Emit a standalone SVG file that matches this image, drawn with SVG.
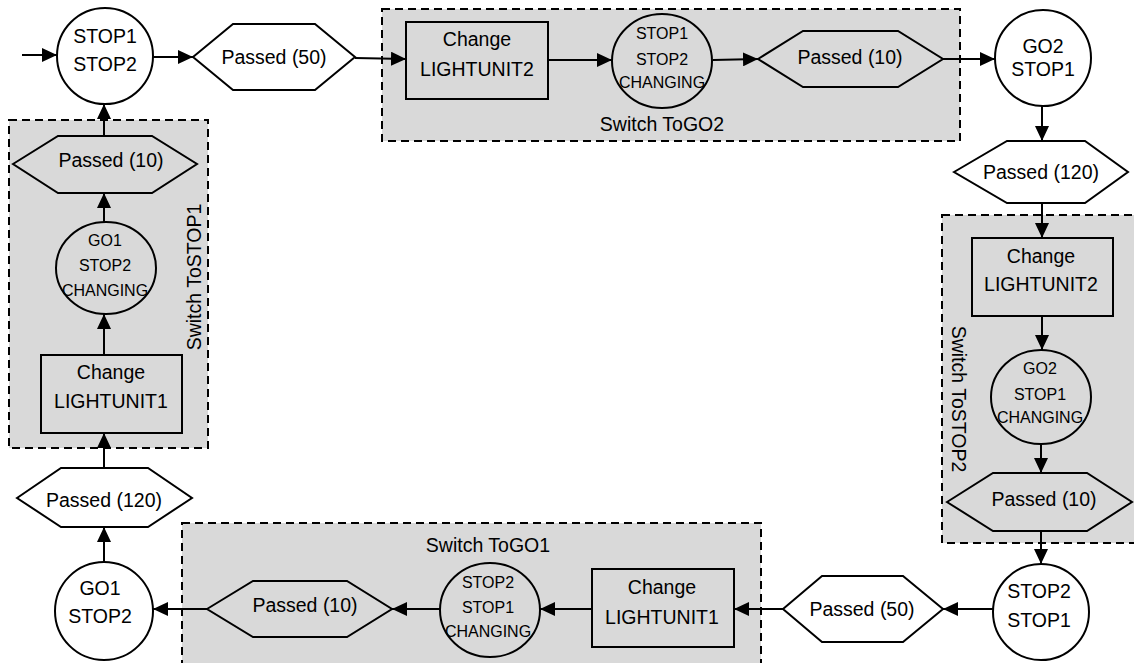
<svg xmlns="http://www.w3.org/2000/svg" width="1134" height="663" viewBox="0 0 1134 663">
<style>
.n{fill:#fff;stroke:#000;stroke-width:2}
.i{fill:none;stroke:#000;stroke-width:2}
.g{fill:#d9d9d9;stroke:#000;stroke-width:2;stroke-dasharray:8 5}
.c{fill:none;stroke:#000;stroke-width:2;marker-end:url(#a)}
text{font-family:"Liberation Sans",Arial,sans-serif;font-size:19.5px;text-anchor:middle;fill:#000}
.s{font-size:16px}
</style>
<defs>
<marker id="a" markerUnits="userSpaceOnUse" markerWidth="16" markerHeight="14" refX="15" refY="7" orient="auto"><path d="M0,0 L15,7 L0,14 z" fill="#000"/></marker>
</defs>
<rect width="1134" height="663" fill="#fff"/>
<g id="grp-togo2"><rect class="g" x="382" y="9" width="578" height="132"/><text x="662" y="131">Switch ToGO2</text></g>
<g id="grp-tostop2"><rect class="g" x="942" y="215" width="200" height="328"/><text transform="translate(952,399) rotate(90)">Switch ToSTOP2</text></g>
<g id="grp-togo1"><rect class="g" x="182" y="523" width="579" height="150"/><text x="488" y="552">Switch ToGO1</text></g>
<g id="grp-tostop1"><rect class="g" x="9" y="120" width="199" height="328"/><text transform="translate(201,277) rotate(-90)">Switch ToSTOP1</text></g>

<g id="connectors">
<line class="c" x1="22" y1="55" x2="57" y2="55"/>
<line class="c" x1="152" y1="57" x2="193" y2="57"/>
<line class="c" x1="355" y1="58" x2="406" y2="59"/>
<line class="c" x1="548" y1="60" x2="612" y2="60"/>
<line class="c" x1="713" y1="60" x2="758" y2="59"/>
<line class="c" x1="943" y1="59" x2="995" y2="59"/>
<line class="c" x1="1042" y1="106" x2="1042" y2="141"/>
<line class="c" x1="1042" y1="203" x2="1042" y2="238"/>
<line class="c" x1="1042" y1="316" x2="1042" y2="350"/>
<line class="c" x1="1041" y1="444" x2="1041" y2="473"/>
<line class="c" x1="1041" y1="531" x2="1041" y2="564"/>
<line class="c" x1="993" y1="609" x2="943" y2="609"/>
<line class="c" x1="783" y1="609" x2="734" y2="609"/>
<line class="c" x1="592" y1="609" x2="540" y2="609"/>
<line class="c" x1="440" y1="609" x2="392" y2="609"/>
<line class="c" x1="207" y1="609" x2="153" y2="609"/>
<line class="c" x1="104" y1="562" x2="104" y2="527"/>
<line class="c" x1="104" y1="468" x2="104" y2="433"/>
<line class="c" x1="104" y1="355" x2="104" y2="314"/>
<line class="c" x1="104" y1="222" x2="104" y2="193"/>
<line class="c" x1="104" y1="136" x2="104" y2="104"/>
</g>

<g id="n-stop1stop2"><circle class="n" cx="105" cy="56" r="48"/><text x="105" y="43">STOP1</text><text x="105" y="71">STOP2</text></g>
<g id="n-passed50a"><polygon class="n" points="193,57 233,24 315,24 355,57 315,90 233,90"/><text x="274" y="64">Passed (50)</text></g>
<g id="n-change2a"><rect class="i" x="406" y="22" width="142" height="77"/><text x="477" y="46">Change</text><text x="477" y="76">LIGHTUNIT2</text></g>
<g id="n-chg-a"><ellipse class="i" cx="662" cy="61" rx="50" ry="47"/><text class="s" x="662" y="39">STOP1</text><text class="s" x="662" y="65">STOP2</text><text class="s" x="662" y="88">CHANGING</text></g>
<g id="n-passed10a"><polygon class="i" points="758,59 803,31 898,31 943,59 898,87 803,87"/><text x="850" y="64">Passed (10)</text></g>
<g id="n-go2stop1"><circle class="n" cx="1043" cy="58" r="48"/><text x="1043" y="53">GO2</text><text x="1043" y="76">STOP1</text></g>
<g id="n-passed120a"><polygon class="n" points="954,172 1007,141 1085,141 1128,172 1085,203 1007,203"/><text x="1041" y="179">Passed (120)</text></g>
<g id="n-change2b"><rect class="i" x="972" y="238" width="141" height="78"/><text x="1041" y="263">Change</text><text x="1041" y="291">LIGHTUNIT2</text></g>
<g id="n-chg-b"><ellipse class="i" cx="1041" cy="397" rx="50" ry="47"/><text class="s" x="1040" y="374">GO2</text><text class="s" x="1040" y="400">STOP1</text><text class="s" x="1040" y="423">CHANGING</text></g>
<g id="n-passed10b"><polygon class="i" points="947,502 993,473 1087,473 1132,502 1087,531 993,531"/><text x="1044" y="506">Passed (10)</text></g>
<g id="n-stop2stop1"><circle class="n" cx="1041" cy="612" r="48"/><text x="1039" y="598">STOP2</text><text x="1039" y="627">STOP1</text></g>
<g id="n-passed50b"><polygon class="n" points="783,609 822,576 903,576 943,609 903,642 822,642"/><text x="862" y="616">Passed (50)</text></g>
<g id="n-change1a"><rect class="i" x="592" y="569" width="142" height="78"/><text x="662" y="594">Change</text><text x="662" y="624">LIGHTUNIT1</text></g>
<g id="n-chg-c"><ellipse class="i" cx="490" cy="610" rx="50" ry="47"/><text class="s" x="488" y="588">STOP2</text><text class="s" x="488" y="613">STOP1</text><text class="s" x="488" y="637">CHANGING</text></g>
<g id="n-passed10c"><polygon class="i" points="207,609 253,581 347,581 392,609 347,637 253,637"/><text x="305" y="612">Passed (10)</text></g>
<g id="n-go1stop2"><circle class="n" cx="104" cy="611" r="49"/><text x="100" y="595">GO1</text><text x="100" y="623">STOP2</text></g>
<g id="n-passed120b"><polygon class="n" points="17,498 61,468 148,468 192,498 148,527 61,527"/><text x="104" y="507">Passed (120)</text></g>
<g id="n-change1b"><rect class="i" x="41" y="355" width="141" height="78"/><text x="111" y="379">Change</text><text x="111" y="408">LIGHTUNIT1</text></g>
<g id="n-chg-d"><ellipse class="i" cx="106" cy="268" rx="50" ry="46"/><text class="s" x="105" y="246">GO1</text><text class="s" x="105" y="271">STOP2</text><text class="s" x="105" y="296">CHANGING</text></g>
<g id="n-passed10d"><polygon class="i" points="13,164 58,136 152,136 197,164 152,193 58,193"/><text x="111" y="167">Passed (10)</text></g>
</svg>
